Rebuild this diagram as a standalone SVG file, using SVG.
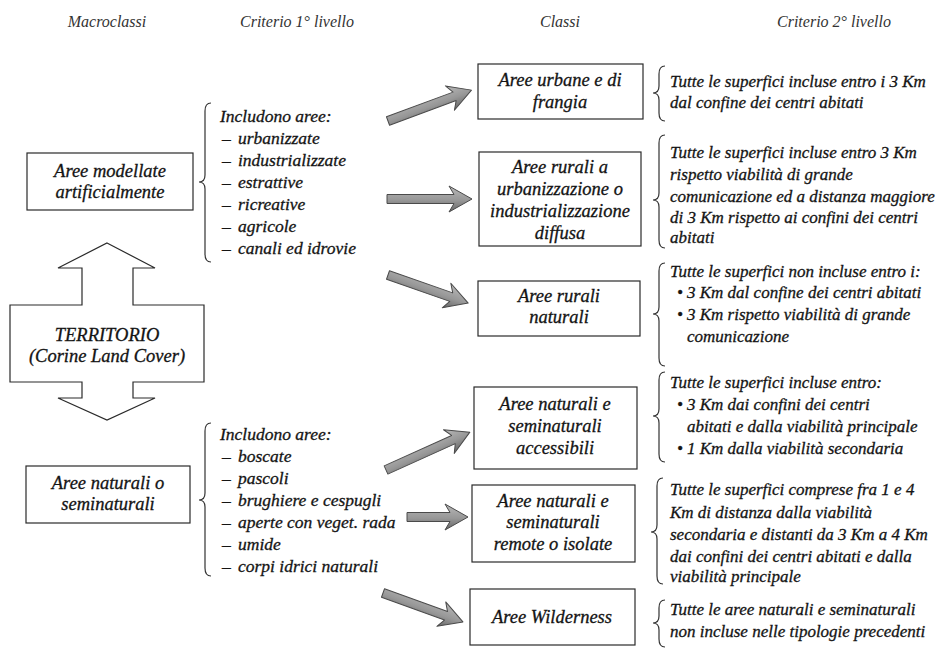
<svg xmlns="http://www.w3.org/2000/svg" width="942" height="654" viewBox="0 0 942 654">
<style>
.bg{fill:#fff}
.box{fill:#fff;stroke:#2a2a2a;stroke-width:1.2}
.t{font-family:"Liberation Serif","Times New Roman","DejaVu Serif",serif;font-style:italic;font-size:17.5px;fill:#141414;stroke:#141414;stroke-width:0.3}
.c{text-anchor:middle}
.h{font-size:16px;fill:#333;stroke:none}
.r{font-size:17px}
.b{font-size:18.5px}
.brace{fill:none;stroke:#333;stroke-width:1.2}
.arr{fill:url(#ag);stroke:#4a4a4a;stroke-width:1;stroke-linejoin:round}
</style>
<defs>
<linearGradient id="ag" x1="0" y1="0" x2="0" y2="1">
<stop offset="0" stop-color="#b8b8b8"/>
<stop offset="0.55" stop-color="#979797"/>
<stop offset="1" stop-color="#666"/>
</linearGradient>
</defs>
<rect class="bg" x="0" y="0" width="942" height="654"/>

<g id="headers">
<text class="t h c" x="107" y="27">Macroclassi</text>
<text class="t h c" x="297" y="27">Criterio 1° livello</text>
<text class="t h c" x="560" y="27">Classi</text>
<text class="t h c" x="834" y="27">Criterio 2° livello</text>
</g>

<g id="territorio">
<path class="box" d="M107 243 L155 268 L133 268 L133 305 L204 305 L204 382 L133 382 L133 398 L155 398 L107 420 L58 398 L82 398 L82 382 L10 382 L10 305 L82 305 L82 268 L58 268 Z"/>
<text class="t b c" x="107" y="341">TERRITORIO</text>
<text class="t b c" x="107" y="362">(Corine Land Cover)</text>
</g>

<g id="macro-artificiali">
<rect class="box" x="27" y="153" width="166" height="57"/>
<text class="t b c" x="110" y="177">Aree modellate</text>
<text class="t b c" x="110" y="198">artificialmente</text>
</g>

<g id="macro-naturali">
<rect class="box" x="26" y="466" width="164" height="57"/>
<text class="t b c" x="108" y="489">Aree naturali o</text>
<text class="t b c" x="108" y="510">seminaturali</text>
</g>

<g id="criterio1-artificiali">
<path class="brace" d="M211 103 Q205 103 205 111 L205 175 Q205 182 199 182 Q205 182 205 189 L205 254 Q205 262 211 262"/>
<text class="t" x="220" y="122">Includono aree:</text>
<text class="t" y="144"><tspan x="222">–</tspan><tspan x="238">urbanizzate</tspan></text>
<text class="t" y="166"><tspan x="222">–</tspan><tspan x="238">industrializzate</tspan></text>
<text class="t" y="188"><tspan x="222">–</tspan><tspan x="238">estrattive</tspan></text>
<text class="t" y="210"><tspan x="222">–</tspan><tspan x="238">ricreative</tspan></text>
<text class="t" y="232"><tspan x="222">–</tspan><tspan x="238">agricole</tspan></text>
<text class="t" y="254"><tspan x="222">–</tspan><tspan x="238">canali ed idrovie</tspan></text>
</g>

<g id="criterio1-naturali">
<path class="brace" d="M211 423 Q205 423 205 431 L205 493 Q205 500 199 500 Q205 500 205 507 L205 568 Q205 576 211 576"/>
<text class="t" x="220" y="440">Includono aree:</text>
<text class="t" y="462"><tspan x="222">–</tspan><tspan x="238">boscate</tspan></text>
<text class="t" y="484"><tspan x="222">–</tspan><tspan x="238">pascoli</tspan></text>
<text class="t" y="506"><tspan x="222">–</tspan><tspan x="238">brughiere e cespugli</tspan></text>
<text class="t" y="528"><tspan x="222">–</tspan><tspan x="238">aperte con veget. rada</tspan></text>
<text class="t" y="550"><tspan x="222">–</tspan><tspan x="238">umide</tspan></text>
<text class="t" y="572"><tspan x="222">–</tspan><tspan x="238">corpi idrici naturali</tspan></text>
</g>

<g id="connectors">
<path class="arr" transform="translate(388,121) rotate(-20.3)" d="M0 -4.5 L71 -4.5 L66 -13 L89 0 L66 13 L71 4.5 L0 4.5 Z"/>
<path class="arr" transform="translate(387,199)" d="M0 -4.5 L67 -4.5 L62 -13 L85 0 L62 13 L67 4.5 L0 4.5 Z"/>
<path class="arr" transform="translate(388,275) rotate(19.3)" d="M0 -4.5 L67 -4.5 L62 -13 L85 0 L62 13 L67 4.5 L0 4.5 Z"/>
<path class="arr" transform="translate(386,470) rotate(-24.3)" d="M0 -4.5 L74 -4.5 L69 -13 L92 0 L69 13 L74 4.5 L0 4.5 Z"/>
<path class="arr" transform="translate(407,517)" d="M0 -4.5 L43 -4.5 L38 -13 L61 0 L38 13 L43 4.5 L0 4.5 Z"/>
<path class="arr" transform="translate(383,593) rotate(19.9)" d="M0 -4.5 L67 -4.5 L62 -13 L85 0 L62 13 L67 4.5 L0 4.5 Z"/>
</g>

<g id="classe-urbane">
<rect class="box" x="478" y="64" width="165" height="55"/>
<text class="t b c" x="560" y="86">Aree urbane e di</text>
<text class="t b c" x="560" y="108">frangia</text>
</g>

<g id="classe-rurali-urbanizzazione">
<rect class="box" x="479" y="152" width="162" height="94"/>
<text class="t b c" x="560" y="173">Aree rurali a</text>
<text class="t b c" x="560" y="195">urbanizzazione o</text>
<text class="t b c" x="560" y="217">industrializzazione</text>
<text class="t b c" x="560" y="239">diffusa</text>
</g>

<g id="classe-rurali-naturali">
<rect class="box" x="478" y="281" width="162" height="55"/>
<text class="t b c" x="559" y="302">Aree rurali</text>
<text class="t b c" x="559" y="323">naturali</text>
</g>

<g id="classe-naturali-accessibili">
<rect class="box" x="474" y="387" width="163" height="82"/>
<text class="t b c" x="555" y="410">Aree naturali e</text>
<text class="t b c" x="555" y="432">seminaturali</text>
<text class="t b c" x="555" y="454">accessibili</text>
</g>

<g id="classe-naturali-remote">
<rect class="box" x="472" y="485" width="163" height="77"/>
<text class="t b c" x="553" y="507">Aree naturali e</text>
<text class="t b c" x="553" y="528">seminaturali</text>
<text class="t b c" x="553" y="550">remote o isolate</text>
</g>

<g id="classe-wilderness">
<rect class="box" x="470" y="589" width="165" height="56"/>
<text class="t b c" x="552" y="623">Aree Wilderness</text>
</g>

<g id="criterio2-urbane">
<path class="brace" d="M665 66 Q659 66 659 74 L659 86 Q659 93 653 93 Q659 93 659 100 L659 113 Q659 121 665 121"/>
<text class="t r" x="670" y="87">Tutte le superfici incluse entro i 3 Km</text>
<text class="t r" x="670" y="108">dal confine dei centri abitati</text>
</g>

<g id="criterio2-rurali-urbanizzazione">
<path class="brace" d="M665 135 Q659 135 659 143 L659 193 Q659 200 653 200 Q659 200 659 207 L659 240 Q659 248 665 248"/>
<text class="t r" x="670" y="158">Tutte le superfici incluse entro 3 Km</text>
<text class="t r" x="670" y="180">rispetto viabilità di grande</text>
<text class="t r" x="670" y="202">comunicazione ed a distanza maggiore</text>
<text class="t r" x="670" y="223">di 3 Km rispetto ai confini dei centri</text>
<text class="t r" x="670" y="243">abitati</text>
</g>

<g id="criterio2-rurali-naturali">
<path class="brace" d="M665 263 Q659 263 659 271 L659 307 Q659 314 653 314 Q659 314 659 321 L659 358 Q659 366 665 366"/>
<text class="t r" x="670" y="277">Tutte le superfici non incluse entro i:</text>
<text class="t r" y="298"><tspan x="677">•</tspan><tspan x="687">3 Km dal confine dei centri abitati</tspan></text>
<text class="t r" y="320"><tspan x="677">•</tspan><tspan x="687">3 Km rispetto viabilità di grande</tspan></text>
<text class="t r" x="687" y="342">comunicazione</text>
</g>

<g id="criterio2-naturali-accessibili">
<path class="brace" d="M665 372 Q659 372 659 380 L659 409 Q659 416 653 416 Q659 416 659 423 L659 454 Q659 462 665 462"/>
<text class="t r" x="670" y="388">Tutte le superfici incluse entro:</text>
<text class="t r" y="410"><tspan x="677">•</tspan><tspan x="687">3 Km dai confini dei centri</tspan></text>
<text class="t r" x="687" y="432">abitati e dalla viabilità principale</text>
<text class="t r" y="454"><tspan x="677">•</tspan><tspan x="687">1 Km dalla viabilità secondaria</tspan></text>
</g>

<g id="criterio2-naturali-remote">
<path class="brace" d="M663 478 Q657 478 657 486 L657 525 Q657 532 651 532 Q657 532 657 539 L657 576 Q657 584 663 584"/>
<text class="t r" x="670" y="495">Tutte le superfici comprese fra 1 e 4</text>
<text class="t r" x="670" y="518">Km di distanza dalla viabilità</text>
<text class="t r" x="670" y="540">secondaria e distanti da 3 Km a 4 Km</text>
<text class="t r" x="670" y="562">dai confini dei centri abitati  e dalla</text>
<text class="t r" x="670" y="582">viabilità principale</text>
</g>

<g id="criterio2-wilderness">
<path class="brace" d="M665 600 Q659 600 659 608 L659 616 Q659 623 653 623 Q659 623 659 630 L659 639 Q659 647 665 647"/>
<text class="t r" x="670" y="615">Tutte le aree naturali e seminaturali</text>
<text class="t r" x="670" y="637">non incluse nelle tipologie precedenti</text>
</g>
</svg>
